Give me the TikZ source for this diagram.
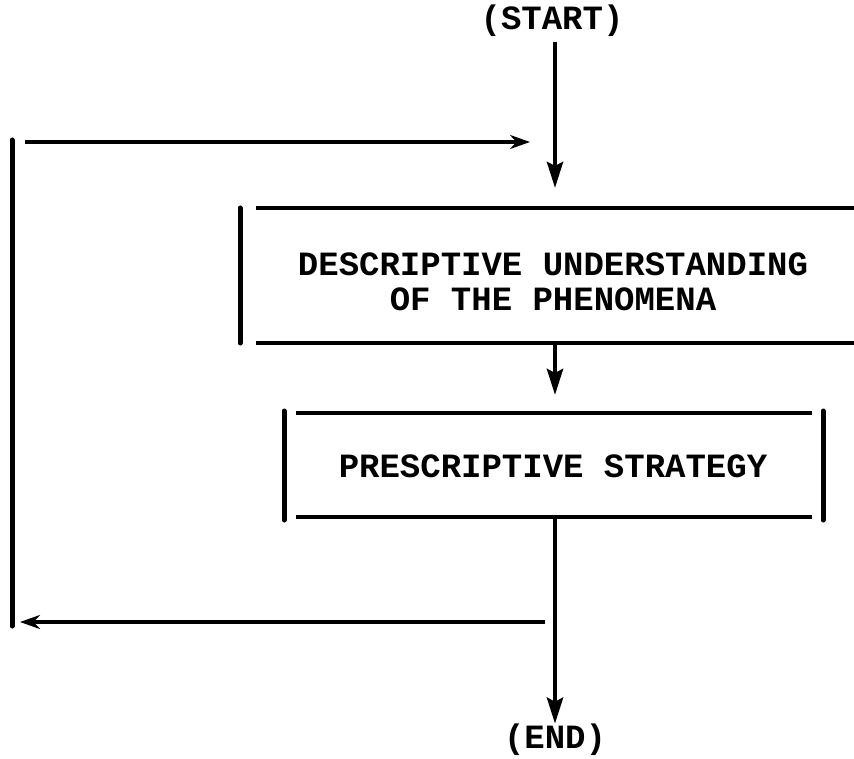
\documentclass[tikz,border=0pt]{standalone}
\usepackage{fontspec}
\newfontfamily\typewriter{Liberation Mono}
\usetikzlibrary{arrows.meta}

\tikzset{
  flow/.style={line width=2.3pt,-{Stealth[length=13pt,width=8pt,inset=2pt]}},
  loopback/.style={line width=1.7pt,-{Stealth[length=10pt,width=7pt]}},
  side/.style={line width=2.5pt,line cap=round},
  rule/.style={line width=1.8pt},
  label/.style={font=\typewriter\bfseries\fontsize{17}{17.5}\selectfont,align=center,inner sep=0pt}
}

\begin{document}
\begin{tikzpicture}[x=0.5pt,y=-0.5pt]
  \useasboundingbox (0,0) rectangle (854,758);
  \def\spine{555}
  \def\leftrail{12}

  % texts
  \node[label] (start) at (552,21) {(START)};
  \node[label] (desc) at (553,282) {DESCRIPTIVE UNDERSTANDING\\OF THE PHENOMENA};
  \node[label] (presc) at (553,466) {PRESCRIPTIVE STRATEGY};
  \node[label] (end) at (555,740) {(END)};

  % points on the spine
  \coordinate (dtop) at (\spine,208);
  \coordinate (dbot) at (\spine,343);
  \coordinate (ptop) at (\spine,411);
  \coordinate (pbot) at (\spine,518);

  % first box
  \draw[side] (240,208) -- (240,343);
  \draw[rule] (256,208) -- (854,208);
  \draw[rule] (256,343) -- (854,343);

  % second box
  \draw[side] (284,411) -- (284,520);
  \draw[side] (823,411) -- (823,520);
  \draw[rule] (296,413) -- (812,413);
  \draw[rule] (296,517) -- (812,517);

  % spine
  \draw[flow] (\spine,42) -- ([yshift=10pt]dtop);
  \draw[flow] (dbot) -- ([yshift=8pt]ptop);
  \draw[flow] (pbot) -- (end.north);

  % loop back
  \coordinate (fork) at (545,622);
  \coordinate (rejoin) at (530,142);
  \draw[side] (\leftrail,140) -- (\leftrail,626);
  \draw[loopback] (fork) -- (20,622);
  \draw[loopback] (25,142) -- (rejoin);
\end{tikzpicture}
\end{document}
